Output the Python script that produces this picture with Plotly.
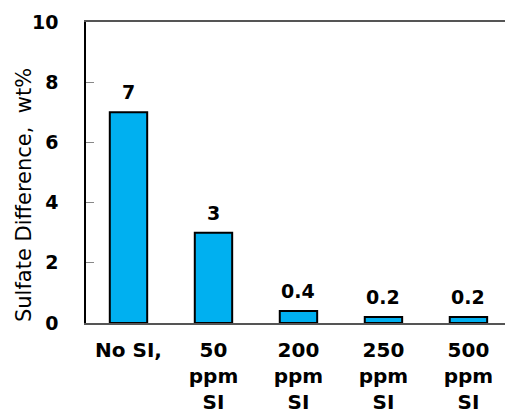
import plotly.graph_objects as go

categories = ["No SI,", "50<br>ppm<br>SI", "200<br>ppm<br>SI", "250<br>ppm<br>SI", "500<br>ppm<br>SI"]
sulfate_diff = [7, 3, 0.4, 0.2, 0.2]
y_ticks = [0, 2, 4, 6, 8, 10]
y_title = "Sulfate Difference,  wt%"

FONT = "DejaVu Sans"
x_pos = list(range(len(categories)))

fig = go.Figure(
    go.Bar(
        x=x_pos,
        y=sulfate_diff,
        marker=dict(color="#00B0F0", line=dict(color="black", width=2)),
        width=0.44,
    )
)

# value labels above each bar
for xi, v in zip(x_pos, sulfate_diff):
    fig.add_annotation(
        x=xi, y=v, text=f"<b>{v:g}</b>", showarrow=False,
        yanchor="bottom", yshift=7,
        font=dict(family=FONT, size=19, color="black"),
    )

# vertical axis title, placed by hand
fig.add_annotation(
    x=-0.148, y=0.425, xref="paper", yref="paper",
    text=y_title, textangle=-90, showarrow=False,
    xanchor="center", yanchor="middle",
    font=dict(family=FONT, size=21, color="black"),
)

fig.update_layout(
    width=505,
    height=414,
    margin=dict(l=86, r=0, t=22, b=91),
    paper_bgcolor="white",
    plot_bgcolor="white",
    showlegend=False,
    font=dict(family=FONT, color="black"),
)

fig.update_xaxes(
    range=[-0.5, 4.43],
    tickmode="array",
    tickvals=x_pos,
    ticktext=[f"<b>{c}</b>" for c in categories],
    tickfont=dict(family=FONT, size=20, color="black"),
    ticks="",
    ticklabelstandoff=8,
    showline=True,
    linecolor="#555555",
    linewidth=1.5,
    mirror=True,
    showgrid=False,
    zeroline=False,
    automargin=False,
)

fig.update_yaxes(
    range=[0, 10],
    tickmode="array",
    tickvals=y_ticks,
    ticktext=[f"<b>{t}</b>" for t in y_ticks],
    tickfont=dict(family=FONT, size=19, color="black"),
    ticks="inside",
    ticklen=8,
    tickcolor="#888888",
    ticklabelstandoff=22,
    showline=True,
    linecolor="black",
    linewidth=1.5,
    showgrid=False,
    zeroline=False,
    automargin=False,
)

fig.write_html("out.html")
